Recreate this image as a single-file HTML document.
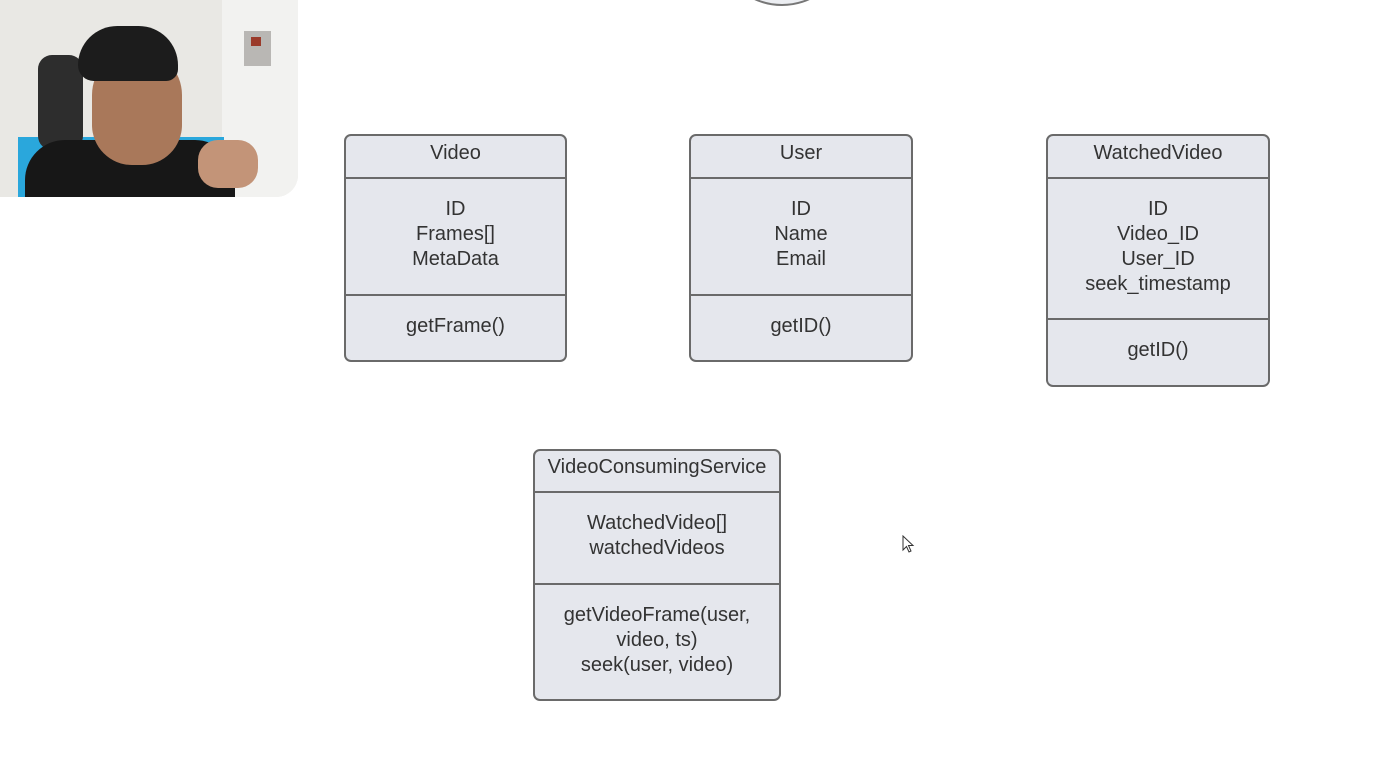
<!DOCTYPE html>
<html><head><meta charset="utf-8"><style>
body{margin:0;width:1391px;height:783px;background:#fff;position:relative;overflow:hidden;font-family:"Liberation Sans",sans-serif;}
.box{position:absolute;background:#e5e7ed;border:2px solid #6a6a6a;border-radius:7px;box-sizing:border-box;color:#333;font-size:20px;}
.sec{position:absolute;left:0;right:0;display:flex;align-items:center;justify-content:center;text-align:center;line-height:25px;padding-bottom:4px;box-sizing:border-box;}
.t{padding-bottom:8px;}
.line{position:absolute;left:0;right:0;height:0;border-top:2px solid #6a6a6a;}
</style></head><body>
<div style="position:absolute;left:0;top:0;width:298px;height:197px;border-radius:0 0 22px 0;overflow:hidden;background:#e9e8e4;">
  <div style="position:absolute;left:222px;top:0;width:76px;height:197px;background:#f2f2f0;"></div>
  <div style="position:absolute;left:244px;top:31px;width:27px;height:35px;background:#b9b7b4;"></div>
  <div style="position:absolute;left:251px;top:37px;width:10px;height:9px;background:#9a3a2a;"></div>
  <div style="position:absolute;left:18px;top:137px;width:206px;height:60px;background:#2aa7dc;"></div>
  <div style="position:absolute;left:38px;top:55px;width:45px;height:95px;background:#2d2d2d;border-radius:14px;"></div>
  <div style="position:absolute;left:25px;top:140px;width:210px;height:70px;background:#171717;border-radius:40px 40px 0 0;"></div>
  <div style="position:absolute;left:92px;top:50px;width:90px;height:115px;background:#a9785a;border-radius:45px 45px 40px 40px;"></div>
  <div style="position:absolute;left:78px;top:26px;width:100px;height:55px;background:#1c1c1c;border-radius:50px 50px 15px 20px;"></div>
  <div style="position:absolute;left:198px;top:140px;width:60px;height:48px;background:#c39478;border-radius:20px;"></div>
</div>
<svg style="position:absolute;left:0;top:0" width="1391" height="20"><ellipse cx="782" cy="-40" rx="55" ry="45" fill="#eceef2" stroke="#777" stroke-width="2"/></svg>

<div class="box" style="left:344px;top:134px;width:223px;height:228px;">
  <div class="sec t" style="top:0;height:42px;">Video</div>
  <div class="line" style="top:41px"></div>
  <div class="sec" style="top:43px;height:115px;">ID<br>Frames[]<br>MetaData</div>
  <div class="line" style="top:158px"></div>
  <div class="sec" style="top:160px;height:64px;">getFrame()</div>
</div>
<div class="box" style="left:689px;top:134px;width:224px;height:228px;">
  <div class="sec t" style="top:0;height:42px;">User</div>
  <div class="line" style="top:41px"></div>
  <div class="sec" style="top:43px;height:115px;">ID<br>Name<br>Email</div>
  <div class="line" style="top:158px"></div>
  <div class="sec" style="top:160px;height:64px;">getID()</div>
</div>
<div class="box" style="left:1046px;top:134px;width:224px;height:253px;">
  <div class="sec t" style="top:0;height:42px;">WatchedVideo</div>
  <div class="line" style="top:41px"></div>
  <div class="sec" style="top:43px;height:139px;">ID<br>Video_ID<br>User_ID<br>seek_timestamp</div>
  <div class="line" style="top:182px"></div>
  <div class="sec" style="top:184px;height:65px;">getID()</div>
</div>
<div class="box" style="left:533px;top:449px;width:248px;height:252px;">
  <div class="sec t" style="top:0;height:40px;">VideoConsumingService</div>
  <div class="line" style="top:40px"></div>
  <div class="sec" style="top:42px;height:90px;">WatchedVideo[]<br>watchedVideos</div>
  <div class="line" style="top:132px"></div>
  <div class="sec" style="top:134px;height:114px;">getVideoFrame(user,<br>video, ts)<br>seek(user, video)</div>
</div>
<svg style="position:absolute;left:902px;top:535px" width="14" height="20"><path d="M1 1 L1 15 L4.5 11.5 L7 17 L9 16 L6.5 10.5 L11 10.5 Z" fill="#fff" stroke="#333" stroke-width="1"/></svg>
</body></html>
